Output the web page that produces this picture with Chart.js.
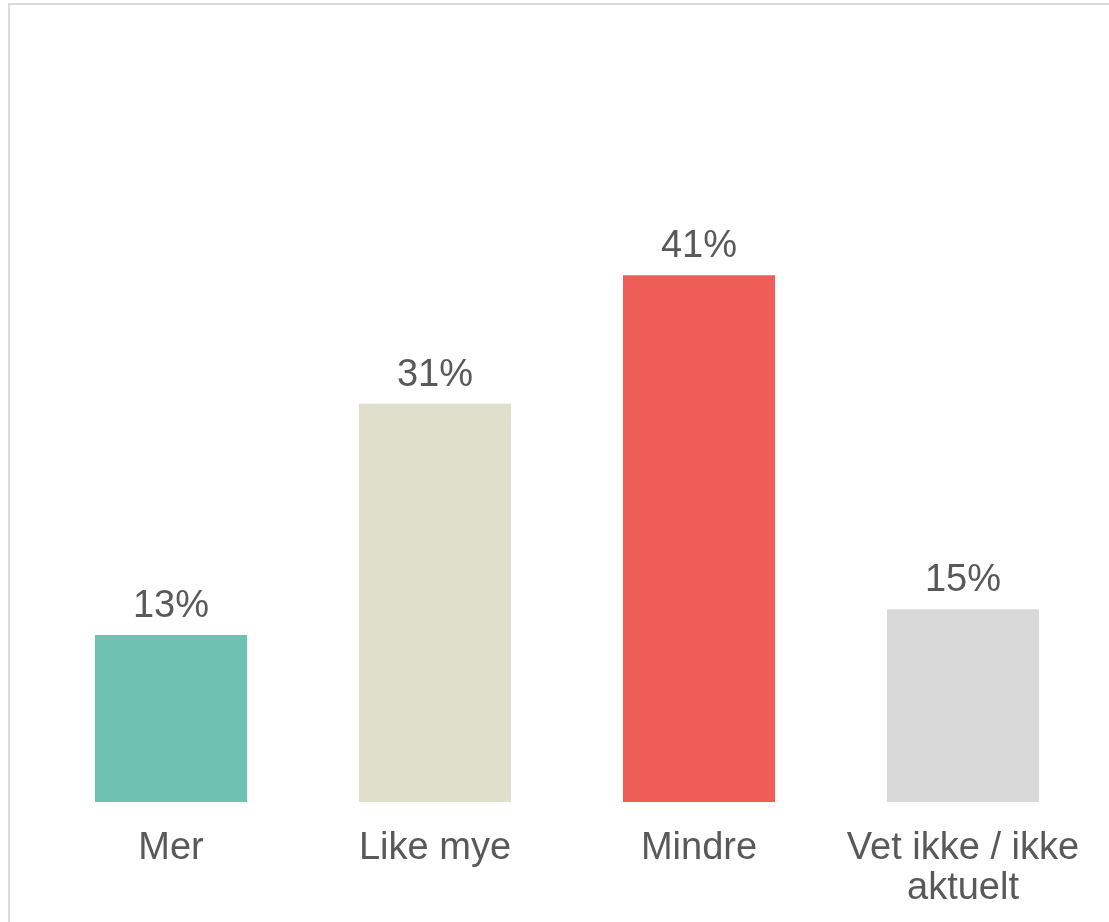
<!DOCTYPE html>
<html>
<head>
<meta charset="utf-8">
<script src="https://cdn.jsdelivr.net/npm/chart.js@4"></script>
<style>
  html, body { margin: 0; padding: 0; background: #fff; }
  #wrap { position: relative; width: 1109px; height: 922px; overflow: hidden; }
  #frame { position: absolute; left: 8px; top: 3px; width: 1200px; height: 1000px;
           border-left: 2px solid #dcdcdc; border-top: 2px solid #dcdcdc; box-sizing: border-box; }
  canvas { position: absolute; left: 0; top: 0; }
</style>
</head>
<body>
<div id="wrap">
  <div id="frame"></div>
  <canvas id="canvas" width="1109" height="922"></canvas>
</div>
<script>
var categories = ['Mer', 'Like mye', 'Mindre', ['Vet ikke / ikke', 'aktuelt']];
var values = [13, 31, 41, 15];
var barColors = ['#6dc2b1', '#e0dfcb', '#ef5d59', '#d9d9d9'];

var textColor = '#595959';
var fontFamily = "'Liberation Sans', Arial, sans-serif";

// draws the percentage above each bar
var valueLabels = {
  id: 'valueLabels',
  afterDatasetsDraw: function(chart) {
    var ctx = chart.ctx;
    var meta = chart.getDatasetMeta(0);
    ctx.save();
    ctx.font = '38px ' + fontFamily;
    ctx.fillStyle = textColor;
    ctx.textAlign = 'center';
    ctx.textBaseline = 'alphabetic';
    meta.data.forEach(function(bar, i) {
      ctx.fillText(values[i] + '%', bar.x, bar.y - 18);
    });
    ctx.restore();
  }
};

var ctx = document.getElementById('canvas').getContext('2d');
var chart = new Chart(ctx, {
  type: 'bar',
  data: {
    labels: categories,
    datasets: [{
      data: values,
      backgroundColor: barColors,
      borderWidth: 0,
      categoryPercentage: 1,
      barPercentage: 0.576
    }]
  },
  options: {
    responsive: false,
    animation: false,
    layout: { padding: { left: 39, right: 14, top: 31, bottom: 0 } },
    plugins: {
      legend: { display: false },
      tooltip: { enabled: false }
    },
    scales: {
      x: {
        grid: { display: false },
        border: { display: false },
        afterFit: function(scale) { scale.height = 120; },
        ticks: {
          color: textColor,
          padding: 19,
          maxRotation: 0,
          autoSkip: false,
          font: { family: fontFamily, size: 38, lineHeight: 1.05 }
        }
      },
      y: {
        display: false,
        min: 0,
        max: 60
      }
    }
  },
  plugins: [valueLabels]
});
</script>
</body>
</html>
